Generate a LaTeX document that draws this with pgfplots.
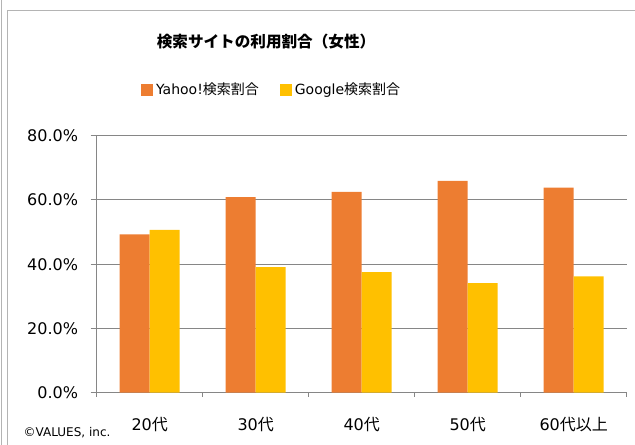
\documentclass[border=0pt]{standalone}
\usepackage{fontspec}
\setmainfont{DejaVu Sans}
\newfontfamily\cjk{Noto Sans CJK JP}
\usepackage{pgfplots}
\pgfplotsset{compat=1.18}
\definecolor{yahoo}{HTML}{ED7D31}
\definecolor{google}{HTML}{FFC000}
\definecolor{gridc}{HTML}{868686}
\definecolor{framec}{HTML}{B4B4B4}
% pixel position (x from left, y from top) of the 635x445 reference
\newcommand\px[2]{({#1*0.75pt},{(445-#2)*0.75pt})}

\begin{document}
\begin{tikzpicture}
\path[use as bounding box] \px{0}{0} rectangle \px{635}{445};
% outer border lines
\draw[framec,line width=1.2pt] \px{1.5}{0} -- \px{1.5}{445};
\draw[framec,line width=1.2pt] \px{7.5}{445} -- \px{7.5}{10.5} -- \px{640}{10.5};
% title
\node[font=\cjk\bfseries\fontsize{11.7}{13}\selectfont] at \px{266}{42} {検索サイトの利用割合（女性）};
% copyright
\node[anchor=west,font=\fontsize{9}{10}\selectfont] at \px{19}{433} {©VALUES, inc.};

% data origin (category 0, 0%) sits at pixel (149.7, 392.7)
\begin{axis}[
  at={(112.275pt,39.225pt)}, anchor=origin,
  scale only axis,
  width=397.5pt, height=192.75pt,
  xmin=-0.5, xmax=4.5, ymin=0, ymax=80,
  axis x line*=bottom, axis y line*=left,
  axis line style={gridc,line width=0.8pt},
  ybar=0pt, bar width=0.283,
  ytick={0,20,40,60,80},
  yticklabels={0.0\%,20.0\%,40.0\%,60.0\%,80.0\%},
  xtick={0,1,2,3,4},
  xticklabels={20{\cjk 代},30{\cjk 代},40{\cjk 代},50{\cjk 代},60{\cjk 代以上}},
  minor xtick={-0.5,0.5,1.5,2.5,3.5,4.5},
  tick align=outside,
  major tick length=4.5pt,
  minor tick length=3pt,
  major x tick style={draw=none},
  minor x tick style={gridc,line width=0.8pt},
  major y tick style={gridc,line width=0.8pt},
  ymajorgrids,
  grid style={gridc,line width=0.8pt},
  ticklabel style={font=\fontsize{12}{14}\selectfont,text=black},
  yticklabel style={xshift=-6pt},
  xticklabel style={yshift=-10pt},
  legend style={at={(0.331,1.178)},anchor=center,draw=none,fill=none,
    legend columns=2,font=\fontsize{10.5}{12}\selectfont,
    /tikz/every even column/.append style={column sep=14pt},
    inner sep=0pt},
  legend image code/.code={\fill[#1] (0pt,-4.6pt) rectangle (9pt,4.6pt);},
  legend cell align=left,
]
\addplot[fill=yahoo,draw=none] coordinates {(0,49.3) (1,60.9) (2,62.5) (3,65.9) (4,63.8)};
\addplot[fill=google,draw=none] coordinates {(0,50.7) (1,39.1) (2,37.5) (3,34.1) (4,36.2)};
\legend{Yahoo!{\cjk 検索割合},Google{\cjk 検索割合}}
\end{axis}
\end{tikzpicture}
\end{document}
